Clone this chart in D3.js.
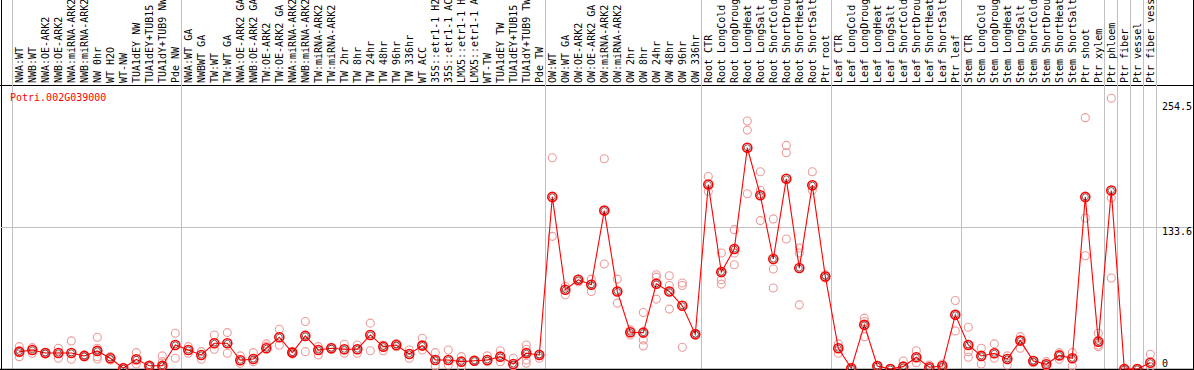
<!DOCTYPE html>
<html><head><meta charset="utf-8">
<script src="https://cdn.jsdelivr.net/npm/d3@7"></script>
<style>body{margin:0;background:#fff}svg{display:block}text{font-family:"DejaVu Sans Mono",monospace;font-size:10px}</style>
</head><body><svg id="c" width="1194" height="370"></svg>
<script>
const geneId = "Potri.002G039000";
const categories = [
"NWA:WT","NWB:WT","NWA:OE-ARK2","NWB:OE-ARK2","NWA:miRNA-ARK2","NWB:miRNA-ARK2","NW 0hr","WT H2O","WT-NW","TUA1dEY NW","TUA1dEY+TUB15","TUA1dY+TUB9 NW","Pde NW",
"NWA:WT GA","NWBWT GA","TW:WT","TW:WT GA","NWA:OE-ARK2 GA","NWB:OE-ARK2 GA","TW:OE-ARK2","TW:OE-ARK2 GA","NWA:miRNA-ARK2","NWB:miRNA-ARK2","TW:miRNA-ARK2","TW:miRNA-ARK2",
"TW 2hr","TW 8hr","TW 24hr","TW 48hr","TW 96hr","TW 336hr","WT ACC","35S::etr1-1 H2","35S::etr1-1 AC","LMX5::etr1-1 H","LMX5::etr1-1 A","WT-TW","TUA1dEY TW","TUA1dEY+TUB15","TUA1dY+TUB9 TW","Pde TW",
"OW:WT","OW:WT GA","OW:OE-ARK2","OW:OE-ARK2 GA","OW:miRNA-ARK2","OW:miRNA-ARK2","OW 2hr","OW 8hr","OW 24hr","OW 48hr","OW 96hr","OW 336hr",
"Root CTR","Root LongCold","Root LongDroug","Root LongHeat","Root LongSalt","Root ShortCold","Root ShortDrou","Root ShortHeat","Root ShortSalt","Ptr root",
"Leaf CTR","Leaf LongCold","Leaf LongDroug","Leaf LongHeat","Leaf LongSalt","Leaf ShortCold","Leaf ShortDrou","Leaf ShortHeat","Leaf ShortSalt","Ptr leaf",
"Stem CTR","Stem LongCold","Stem LongDroug","Stem LongHeat","Stem LongSalt","Stem ShortCold","Stem ShortDrou","Stem ShortHeat","Stem ShortSalt",
"Ptr shoot","Ptr xylem","Ptr phloem","Ptr fiber","Ptr vessel","Ptr fiber vess"];
const means = [
16.3,17.9,15.1,15.1,15.1,12.3,17.0,10.1,0.7,9.1,3.1,3.1,22.6,
17.9,13.2,24.2,24.2,8.2,9.4,19.5,29.9,15.4,31.1,17.9,
19.5,18.6,18.6,32.0,21.0,22.6,14.1,22.0,8.5,8.5,6.9,7.8,8.5,11.6,4.7,14.8,13.2,
161.8,74.5,83.9,79.2,148.9,72.9,34.6,34.2,80.1,72.9,59.4,32.7,
173.4,91.1,112.8,208.0,163.3,103.4,178.8,94.9,172.8,87.0,
19.5,0.7,41.5,2.8,0,2.2,11.0,1.6,2.8,50.9,
22.6,12.3,14.8,9.4,26.7,7.5,4.4,12.8,10.1,
161.8,25.7,167.8,0,0,5.9];
const replicates = [
[21.0,11.6,16.0],[20.1,14.8],[15.8,14.0],[19.5,10.1],[26.4,9.1],[13.0,11.5],[29.9,19.5,9.4,11.5],[11.6,8.5],[1.5,0],[15.4,4.7],[3.5,2.5],[12.3,6.9,2.5],[33.6,10.1],
[21.0,14.8],[16.3,9.1],[32.0,18.6],[34.2,14.8],[12.3,5.4],[15.4,6.9],[23.6,21.5],[37.4,22.3],[16.3,14.0],[44.6,16.3],[21.0,13.2],
[20.5,18.5],[23.3,14.8],[22.6,14.8],[43.1,17.2],[22.6,17.2],[24.0,21.0],[17.9,10.1],[28.9,17.9],[15.4,2.8],[17.9,3.8],[11.6,1.6],[8.2,7.5],[12.3,6.9],[17.2,6.9],[10.1,3.1],[22.6,18.5,16.0,8.5,5.4],[14.0,10.1],
[198.6,124.7],[77.6,69.7],[84.5,82.0],[84.5,72.9],[197.6,98.7],[84.5,61.9],[36.8,32.0],[53.1,27.3,21.7],[88.6,86.4,65.7],[87.7,78.5,56.3],[80.8,78.5,20.5],[33.6,32.0],
[181.0,167.1],[109.0,83.9,79.8],[131.0,109.0,98.0],[233.1,224.6,164.7],[185.4,168.0,139.5],[141.1,94.0,76.1],[210.2,203.3,122.2],[113.8,109.0,60.3],[185.4,168.0],[88.6,85.5],
[23.6,14.8],[1.2,0.3],[47.8,44.6,30.4],[3.5,2.0],[0.5,0],[7.5,0.5],[17.2,5.9],[3.8,0.5],[4.7,1.0],[64.4,35.8],
[39.3,16.3,11.0],[19.5,4.7],[23.6,10.1],[12.3,3.8],[30.4,19.5],[5.9,8.0],[6.9,3.0],[15.4,9.1],[15.4,2.8],
[236.3,142.0,106.5],[33.6,22.6,21.0],[254.5,160.9,85.5],[0.5,0],[0.5,0],[13.9,2.2]];
const yTickValues = [254.5, 133.6, 0];
const gridValues = [133.6];
const groupBoundaries = [0,13,41,53,63,73,84,85,86,87,88];

const svg = d3.select("#c");
const n = categories.length;
const x = d3.scaleLinear().domain([0, n-1]).range([19.3, 1150.3]);
const y = d3.scaleLinear().domain([0, 254.5]).range([369, 98.3]);
const headerBottom = 85.5;

svg.append("line").attr("x1",0).attr("x2",1194).attr("y1",headerBottom).attr("y2",headerBottom).attr("stroke","#000");
svg.append("line").attr("x1",1.5).attr("x2",1.5).attr("y1",0).attr("y2",370).attr("stroke","#000");
svg.append("line").attr("x1",1193.5).attr("x2",1193.5).attr("y1",0).attr("y2",370).attr("stroke","#000");

svg.selectAll("line.sep").data(groupBoundaries).enter().append("line").attr("class","sep")
  .attr("x1",d=>Math.round(x(d-1+0.42))+0.5).attr("x2",d=>Math.round(x(d-1+0.42))+0.5)
  .attr("y1",0).attr("y2",369).attr("stroke","#c0c0c0");

svg.selectAll("line.grid").data(gridValues).enter().append("line").attr("class","grid")
  .attr("x1",1).attr("x2",1193).attr("y1",d=>Math.round(y(d))+0.5).attr("y2",d=>Math.round(y(d))+0.5).attr("stroke","#c0c0c0");

svg.append("line").attr("x1",0).attr("x2",1194).attr("y1",369.5).attr("y2",369.5).attr("stroke","#000").attr("stroke-width",1.5);

svg.selectAll("text.cat").data(categories).enter().append("text").attr("class","cat")
  .attr("transform",(d,i)=>`translate(${x(i)},83) rotate(-90)`)
  .attr("dy","0.36em").attr("fill","#000").text(d=>d);

const yLabelOffset = {"254.5":8, "133.6":5, "0":-6};
svg.selectAll("text.ytick").data(yTickValues).enter().append("text").attr("class","ytick")
  .attr("x",1162).attr("y",d=>y(d)+yLabelOffset[String(d)]).attr("dy","0.35em").attr("fill","#000")
  .text(d=>String(d));

svg.append("text").attr("x",10).attr("y",101).attr("fill","#ff0000").text(geneId);

const repPts = [];
replicates.forEach((arr,i)=>arr.forEach(v=>repPts.push({i,v})));
svg.selectAll("circle.rep").data(repPts).enter().append("circle").attr("class","rep")
  .attr("cx",d=>x(d.i)).attr("cy",d=>y(d.v)).attr("r",4)
  .attr("fill","none").attr("stroke","#ec9c9c").attr("stroke-width",1.1);

svg.append("path").datum(means).attr("fill","none").attr("stroke","#ff0000").attr("stroke-width",1.1)
  .attr("d", d3.line().x((d,i)=>x(i)).y(d=>y(d)));

const mg = svg.selectAll("g.mean").data(means).enter().append("g").attr("class","mean")
  .attr("transform",(d,i)=>`translate(${x(i)},${y(d)})`);
mg.append("circle").attr("r",4.5).attr("fill","none").attr("stroke","#ff0000").attr("stroke-width",1.6);
mg.append("circle").attr("r",3.0).attr("fill","none").attr("stroke","#200000").attr("stroke-width",0.6);
</script></body></html>
